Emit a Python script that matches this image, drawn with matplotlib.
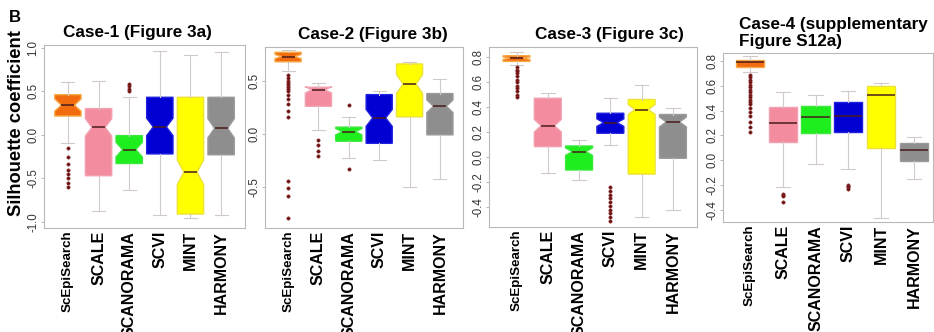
import matplotlib
matplotlib.use("Agg")
import matplotlib.pyplot as plt

plt.rcParams['font.family'] = ['Liberation Sans', 'DejaVu Sans']

W, H = 934, 332

methods = ["ScEpiSearch", "SCALE", "SCANORAMA", "SCVI", "MINT", "HARMONY"]
label_sizes = [9.6, 11.5, 11.5, 11.5, 11.5, 11.5]
fills = ["#F26B0F", "#F48CA0", "#1EEE1E", "#0000D2", "#FFFF00", "#8E8E8E"]
edges = ["#F5A844", "#F2A0B0", "#3AE83A", "#2020E0", "#ECE23A", "#9A9A9A"]

titles = ["Case-1 (Figure 3a)", "Case-2 (Figure 3b)", "Case-3 (Figure 3c)",
          "Case-4 (supplementary\nFigure S12a)"]

# five-number summaries per case: whisker low, Q1, median, Q3, whisker high
case1_whislo = [-0.09, -0.87, -0.63, -0.92, -0.96, -0.92]
case1_q1     = [0.215, -0.47, -0.33, -0.22, -0.91, -0.23]
case1_med    = [0.34, 0.085, -0.17, 0.09, -0.43, 0.075]
case1_q3     = [0.46, 0.30, -0.01, 0.43, 0.43, 0.43]
case1_whishi = [0.61, 0.62, 0.43, 0.96, 0.91, 0.95]
case1_notch  = [0.07, 0.10, 0.085, 0.10, 0.14, 0.11]
case1_fliers = [[-0.15, -0.25, -0.33, -0.40, -0.45, -0.50, -0.55, -0.60],
                [], [0.50, 0.53, 0.56, 0.58], [], [], []]

case2_whislo = [0.59, 0.04, -0.23, -0.245, -0.50, -0.43]
case2_q1     = [0.68, 0.26, -0.07, -0.09, 0.16, -0.01]
case2_med    = [0.73, 0.415, 0.02, 0.15, 0.47, 0.26]
case2_q3     = [0.77, 0.44, 0.063, 0.37, 0.66, 0.38]
case2_whishi = [0.79, 0.48, 0.16, 0.40, 0.68, 0.52]
case2_notch  = [0.02, 0.03, 0.03, 0.08, 0.09, 0.06]
case2_fliers = [[0.56, 0.53, 0.50, 0.48, 0.46, 0.44, 0.42, 0.40, 0.37, 0.33,
                 0.28, 0.22, 0.16, -0.45, -0.51, -0.59, -0.80],
                [-0.06, -0.11, -0.16, -0.21], [0.27, -0.33], [], [], []]

case3_whislo = [0.74, -0.126, -0.185, 0.10, -0.48, -0.42]
case3_q1     = [0.765, 0.083, -0.104, 0.19, -0.137, -0.01]
case3_med    = [0.79, 0.25, 0.043, 0.275, 0.38, 0.28]
case3_q3     = [0.81, 0.47, 0.088, 0.35, 0.46, 0.34]
case3_whishi = [0.84, 0.51, 0.14, 0.47, 0.58, 0.39]
case3_notch  = [0.01, 0.05, 0.03, 0.03, 0.04, 0.04]
case3_fliers = [[0.72, 0.70, 0.69, 0.67, 0.65, 0.62, 0.60, 0.57, 0.55, 0.53,
                 0.50, 0.48],
                [], [],
                [-0.24, -0.27, -0.30, -0.33, -0.36, -0.39, -0.42, -0.45,
                 -0.48, -0.51],
                [], []]

case4_whislo = [0.71, -0.22, -0.03, -0.07, -0.47, -0.15]
case4_q1     = [0.755, 0.15, 0.22, 0.23, 0.095, -0.005]
case4_med    = [0.79, 0.30, 0.35, 0.36, 0.53, 0.08]
case4_q3     = [0.81, 0.43, 0.44, 0.47, 0.60, 0.14]
case4_whishi = [0.84, 0.55, 0.53, 0.56, 0.62, 0.19]
case4_notch  = [None] * 6
case4_fliers = [[0.69, 0.67, 0.65, 0.63, 0.61, 0.59, 0.57, 0.55, 0.53, 0.51,
                 0.49, 0.47, 0.45, 0.42, 0.39, 0.36, 0.31, 0.27, 0.23],
                [-0.27, -0.28, -0.29, -0.34], [],
                [-0.20, -0.21, -0.22, -0.23], [], []]

cases = [
    (case1_whislo, case1_q1, case1_med, case1_q3, case1_whishi, case1_notch, case1_fliers),
    (case2_whislo, case2_q1, case2_med, case2_q3, case2_whishi, case2_notch, case2_fliers),
    (case3_whislo, case3_q1, case3_med, case3_q3, case3_whishi, case3_notch, case3_fliers),
    (case4_whislo, case4_q1, case4_med, case4_q3, case4_whishi, case4_notch, case4_fliers),
]

yticks = [[-1.0, -0.5, 0.0, 0.5, 1.0],
          [-0.5, 0.0, 0.5],
          [-0.4, -0.2, 0.0, 0.2, 0.4, 0.6, 0.8],
          [-0.4, -0.2, 0.0, 0.2, 0.4, 0.6, 0.8]]

# panel frames in pixels: left, right, top, bottom
frames = [(44, 245, 45, 228), (265, 463, 47, 228), (489, 697, 47, 227), (723, 933, 53, 222)]
ylims = [(-1.07, 1.03), (-0.89, 0.82), (-0.56, 0.88), (-0.50, 0.866)]
xlims = [(0.22, 6.78), (0.24, 6.76), (0.12, 6.77), (0.18, 6.58)]

fig = plt.figure(figsize=(W / 100, H / 100), dpi=100)

for i, (frame, case) in enumerate(zip(frames, cases)):
    l, r, t, b = frame
    ax = fig.add_axes([l / W, 1 - b / H, (r - l) / W, (b - t) / H])
    wlo, q1, med, q3, whi, notch, fl = case
    stats = []
    for k in range(len(methods)):
        s = dict(med=med[k], q1=q1[k], q3=q3[k], whislo=wlo[k], whishi=whi[k],
                 fliers=fl[k], label=methods[k])
        if notch[k] is not None:
            s["cilo"] = med[k] - notch[k]
            s["cihi"] = med[k] + notch[k]
        stats.append(s)
    show_notch = notch[0] is not None
    bp = ax.bxp(stats, positions=range(1, 7), widths=0.86, patch_artist=True,
                shownotches=show_notch,
                whiskerprops=dict(color="#d2caca", linewidth=0.8),
                capprops=dict(color="#d2caca", linewidth=0.8),
                medianprops=dict(color="#4a1c1c", linewidth=1.1),
                flierprops=dict(marker="o", markersize=2.4, markerfacecolor="#6b1010",
                                markeredgecolor="#8a3030", markeredgewidth=0.4,
                                linestyle="none"))
    for patch, fc, ec in zip(bp["boxes"], fills, edges):
        patch.set_facecolor(fc)
        patch.set_edgecolor(ec)
        patch.set_linewidth(1.0)
    ax.set_xlim(*xlims[i])
    ax.set_ylim(*ylims[i])
    ax.set_yticks(yticks[i])
    ax.set_yticklabels([f"{v:.1f}" for v in yticks[i]], rotation=90, va="center",
                       fontsize=8.3, color="#333333")
    ax.tick_params(axis="y", length=2, width=0.6, color="#aaaaaa", pad=1.5)
    ax.set_xticks(range(1, 7))
    ax.set_xticklabels(methods, rotation=90, fontweight="bold", va="top", ha="center")
    for lab, fs in zip(ax.get_xticklabels(), label_sizes):
        lab.set_fontsize(fs)
    ax.tick_params(axis="x", length=0, pad=2)
    for sp in ax.spines.values():
        sp.set_color("#b8b8b8")
        sp.set_linewidth(0.8)
    if i < 3:
        title_x = [0.465, 0.545, 0.58][i]
        ax.text(title_x, 1.0 + 13 / (b - t), titles[i], transform=ax.transAxes,
                ha="center", va="center", fontsize=12.3, fontweight="bold")
    else:
        ax.text(16 / (r - l), 1.0 + 20 / (b - t), titles[i], transform=ax.transAxes,
                ha="left", va="center", fontsize=12.3, fontweight="bold",
                linespacing=1.15, multialignment="left")

fig.text(17 / W, 1 - 123.5 / H, "Silhouette coefficient", rotation=90,
         ha="center", va="center", fontsize=13.2, fontweight="bold")
fig.text(15 / W, 1 - 18 / H, "B", ha="center", va="center", fontsize=12,
         fontweight="bold")

fig.savefig("out.png", dpi=100)
